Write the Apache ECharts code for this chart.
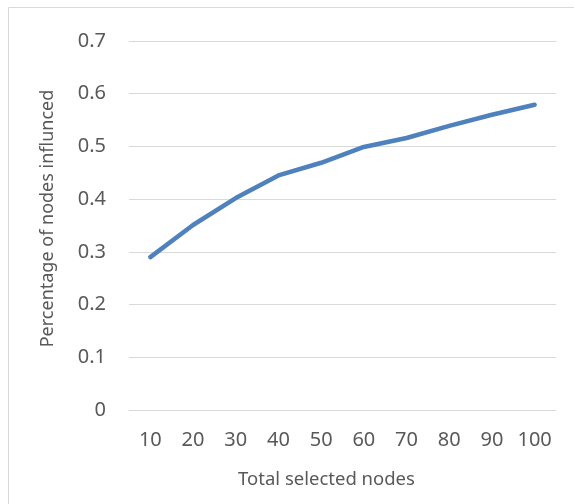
<!DOCTYPE html>
<html><head><meta charset="utf-8">
<script src="https://cdn.jsdelivr.net/npm/echarts@6/dist/echarts.min.js"></script>
<style>html,body{margin:0;padding:0;background:#fff}#c{width:574px;height:504px;position:relative}</style>
</head><body><div id="c"></div>
<script>
const categories = ['10','20','30','40','50','60','70','80','90','100'];
const values = [0.29, 0.351, 0.402, 0.445, 0.469, 0.499, 0.516, 0.539, 0.560, 0.579];
const xTitle = 'Total selected nodes';
const yTitle = 'Percentage of nodes influnced';
const font = '"Noto Sans", sans-serif';
const chart = echarts.init(document.getElementById('c'), null, {renderer:'canvas'});
chart.setOption({
  animation:false,
  graphic:[{type:'rect', shape:{x:8.5,y:7.5,width:600,height:600}, style:{fill:'none', stroke:'#d9d9d9', lineWidth:1}, silent:true}],
  grid:{left:129, right:18, top:41, bottom:94, containLabel:false},
  xAxis:{type:'category', data:categories, boundaryGap:true,
    name:xTitle, nameLocation:'middle', nameGap:60,
    nameTextStyle:{fontFamily:font, fontSize:18.5, color:'#595959', padding:[0,32,0,0]},
    axisLine:{show:true, lineStyle:{color:'#d9d9d9', width:1}},
    axisTick:{show:false},
    axisLabel:{fontFamily:font, fontSize:20, color:'#595959', margin:20, interval:0, hideOverlap:false}},
  yAxis:{type:'value', min:0, max:0.7, interval:0.1,
    name:yTitle, nameLocation:'middle', nameGap:72, nameRotate:90,
    nameTextStyle:{fontFamily:font, fontSize:18, color:'#595959', padding:[0,0,0,14]},
    axisLine:{show:false}, axisTick:{show:false},
    axisLabel:{fontFamily:font, fontSize:20, color:'#595959', margin:23,
      formatter:v=> v===0 ? '0' : v.toFixed(1)},
    splitLine:{lineStyle:{color:'#d9d9d9', width:1}}},
  series:[{type:'line', data:values, showSymbol:false, symbol:'none',
    lineStyle:{color:'#4f81bd', width:4.5, cap:'round', join:'round'}}]
});
</script></body></html>
